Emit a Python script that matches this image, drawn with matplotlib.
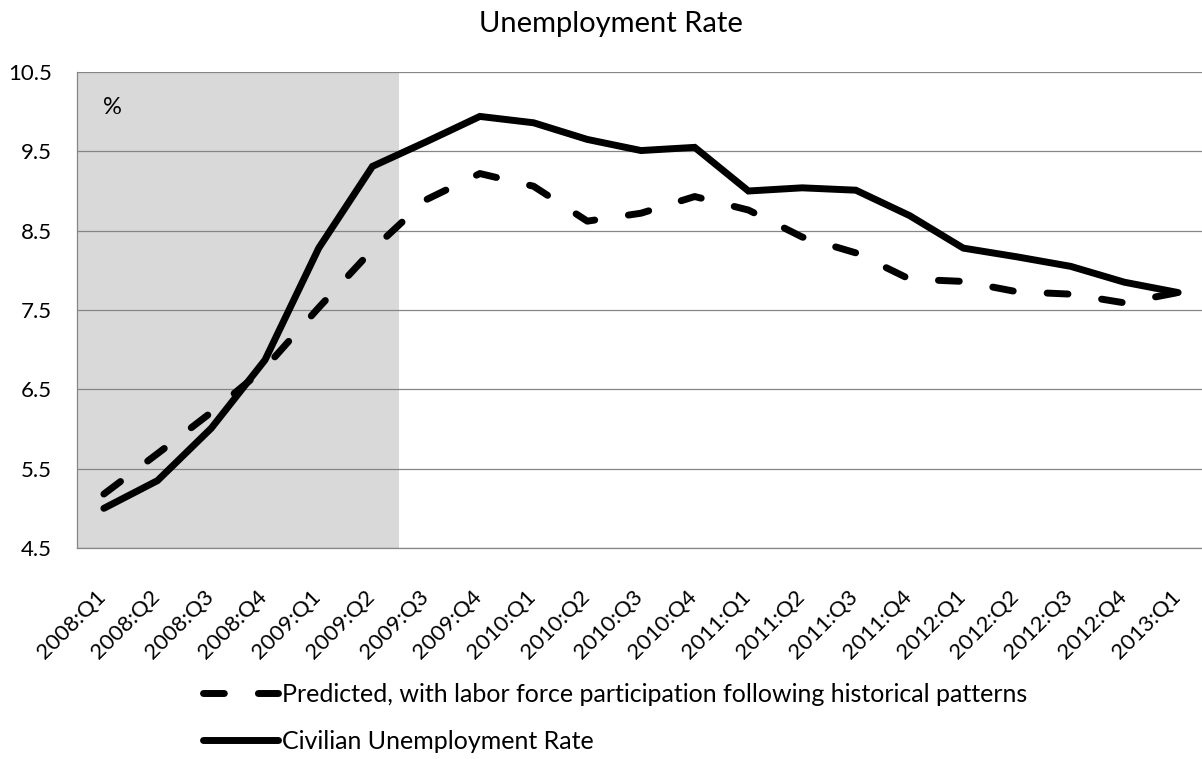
import matplotlib
matplotlib.use("Agg")
import matplotlib.pyplot as plt
import matplotlib.transforms as mtransforms
import numpy as np

plt.rcParams['font.family'] = ['Lato', 'DejaVu Sans']
plt.rcParams['lines.scale_dashes'] = False

quarters = ["2008:Q1", "2008:Q2", "2008:Q3", "2008:Q4",
            "2009:Q1", "2009:Q2", "2009:Q3", "2009:Q4",
            "2010:Q1", "2010:Q2", "2010:Q3", "2010:Q4",
            "2011:Q1", "2011:Q2", "2011:Q3", "2011:Q4",
            "2012:Q1", "2012:Q2", "2012:Q3", "2012:Q4",
            "2013:Q1"]

predicted = [5.18, 5.69, 6.21, 6.77, 7.53, 8.26, 8.89, 9.22, 9.06, 8.62,
             8.72, 8.93, 8.76, 8.42, 8.22, 7.89, 7.86, 7.73, 7.70, 7.59, 7.72]
civilian = [5.00, 5.35, 6.01, 6.87, 8.28, 9.31, 9.62, 9.94, 9.86, 9.65,
            9.51, 9.55, 9.00, 9.04, 9.01, 8.69, 8.28, 8.17, 8.05, 7.85, 7.72]

recession_start = "2008:Q1"
recession_end = "2009:Q2"

yticks = [4.5, 5.5, 6.5, 7.5, 8.5, 9.5, 10.5]

W, H = 1202, 759
fig = plt.figure(figsize=(W / 100, H / 100), dpi=100)
left_px, right_px, top_px, bot_px = 77, 1205, 72, 548
ax = fig.add_axes([left_px / W, 1 - bot_px / H, (right_px - left_px) / W, (bot_px - top_px) / H])

x = np.arange(len(quarters))
grid_c = '#868686'

i0 = quarters.index(recession_start)
i1 = quarters.index(recession_end)
ax.axvspan(i0 - 0.5, i1 + 0.5, color='#D9D9D9', zorder=0, lw=0)

for yv in yticks:
    ax.axhline(yv, color=grid_c, lw=0.9, zorder=1)

l1, = ax.plot(x, predicted, color='black', lw=5, dashes=(15, 24.5),
              dash_capstyle='round', solid_capstyle='round', zorder=3,
              label='Predicted, with labor force participation following historical patterns')
l2, = ax.plot(x, civilian, color='black', lw=5, solid_capstyle='round',
              solid_joinstyle='miter', zorder=4, label='Civilian Unemployment Rate')

ax.set_xlim(-0.5, len(quarters) - 0.5)
ax.set_ylim(4.5, 10.5)
ax.set_yticks(yticks)
ax.set_yticklabels([f"{v:.1f}" for v in yticks], fontsize=16)
ax.set_xticks(x)
ax.set_xticklabels(quarters, fontsize=16, rotation=45, ha='right', va='center',
                   rotation_mode='anchor')
ax.tick_params(axis='both', length=0)
ax.tick_params(axis='y', pad=18)
ax.tick_params(axis='x', pad=33)
offset = mtransforms.ScaledTranslation(-1 / 100, 0, fig.dpi_scale_trans)
for lbl in ax.get_xticklabels():
    lbl.set_transform(lbl.get_transform() + offset)

for s in ['top', 'right']:
    ax.spines[s].set_visible(False)
ax.spines['left'].set_color(grid_c)
ax.spines['bottom'].set_color(grid_c)
ax.spines['left'].set_linewidth(0.9)
ax.spines['bottom'].set_linewidth(0.9)
ax.spines['left'].set_zorder(2)

ax.text((112 - left_px) / (right_px - left_px), 1 - (108 - top_px) / (bot_px - top_px), '%',
        transform=ax.transAxes, ha='center', va='center', fontsize=17)

fig.text(611 / W, 1 - 24 / H, 'Unemployment Rate', ha='center', va='center', fontsize=21)

leg_fs = 18
fs_px = leg_fs * 100 / 72
fig.legend(handles=[l1, l2], loc='upper left',
           bbox_to_anchor=(203 / W, 1 - 683 / H), frameon=False,
           fontsize=leg_fs, handlelength=75 / fs_px, handletextpad=4 / fs_px,
           labelspacing=(49 - fs_px) / fs_px, borderpad=0, borderaxespad=0)

fig.savefig('out.png', dpi=100)
